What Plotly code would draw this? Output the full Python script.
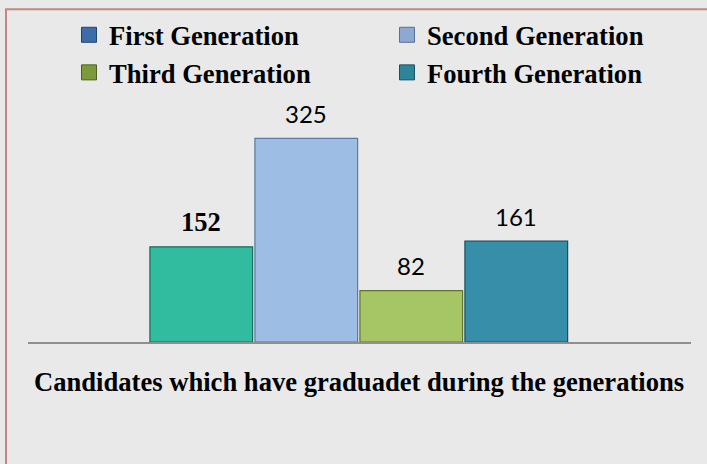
import plotly.graph_objects as go

# ---- data ----
categories = ["First Generation", "Second Generation", "Third Generation", "Fourth Generation"]
values = [152, 325, 82, 161]
axis_title = "Candidates which have graduadet during the generations"

# ---- styles ----
bar_colors = ["#31bb9f", "#9ebde4", "#a6c564", "#378ea8"]
bar_edges = ["#1a6b5a", "#5d7aa0", "#5f7430", "#1d4f5e"]
legend_colors = ["#3d6cab", "#8ea8d2", "#7d9a3a", "#2e8597"]
legend_edges = ["#23436f", "#5b6f93", "#4c6121", "#1a5360"]
label_fonts = [
    dict(family="Liberation Serif", size=26.5, color="#000000"),
    dict(family="Lato", size=24, color="#000000"),
    dict(family="Lato", size=24, color="#000000"),
    dict(family="Lato", size=24, color="#000000"),
]

W, H = 707, 464
ML, MR, MT, MB = 28, 16, 100, 121.5
pw = W - ML - MR
ph = H - MT - MB

fig = go.Figure()

fig.add_trace(go.Bar(
    x=categories, y=values,
    marker=dict(color=bar_colors, line=dict(color=bar_edges, width=1.2)),
    width=0.978,
    showlegend=False,
    hoverinfo="skip",
))

for name, col, edge in zip(categories, legend_colors, legend_edges):
    fig.add_trace(go.Scatter(
        x=[None], y=[None], mode="markers", name=name,
        marker=dict(symbol="square", size=15, color=col, line=dict(color=edge, width=1)),
    ))

annotations = []
for cat, val, fnt in zip(categories, values, label_fonts):
    bold = fnt["family"].startswith("Liberation Serif")
    annotations.append(dict(
        x=cat, y=val, xref="x", yref="y", text=f"<b>{val}</b>" if bold else str(val),
        showarrow=False, yanchor="middle", yshift=25, font=dict(fnt),
    ))

annotations.append(dict(
    x=(358.5 - ML) / pw, y=(342.5 - 383) / ph, xref="paper", yref="paper",
    text=f"<b>{axis_title}</b>", showarrow=False, xanchor="center", yanchor="middle",
    font=dict(family="Liberation Serif", size=26.6, color="#000000"),
))

def px_x(v):
    return (v - ML) / pw

def px_y(v):
    return (H - MB - v) / ph

shapes = [dict(
    type="rect", xref="paper", yref="paper",
    x0=px_x(6), x1=px_x(730), y0=px_y(9), y1=px_y(490),
    line=dict(color="#c48585", width=2), fillcolor="rgba(0,0,0,0)", layer="above",
)]

fig.update_layout(
    width=W, height=H,
    margin=dict(l=ML, r=MR, t=MT, b=MB, pad=0, autoexpand=False),
    paper_bgcolor="#e9e9e9",
    plot_bgcolor="rgba(0,0,0,0)",
    bargap=0.02,
    xaxis=dict(
        type="category", categoryorder="array", categoryarray=categories,
        range=[-1.650, 4.664], showticklabels=False, ticks="",
        showgrid=False, zeroline=False, showline=True, linecolor="#8f8f8f", linewidth=2,
        fixedrange=True,
    ),
    yaxis=dict(
        range=[0, ph / 0.6277], visible=False, showgrid=False, zeroline=False, fixedrange=True,
    ),
    legend=dict(
        orientation="h", xref="container", yref="container",
        x=69 / W, xanchor="left", y=1 - 11 / H, yanchor="top",
        entrywidth=273, entrywidthmode="pixels",
        font=dict(family="Liberation Serif", size=26.6, color="#000000", weight="bold"),
        bgcolor="rgba(0,0,0,0)", traceorder="normal", itemclick=False, itemdoubleclick=False,
    ),
    annotations=annotations,
    shapes=shapes,
    showlegend=True,
)

fig.write_html(
    "out.html",
    config={"displayModeBar": False, "staticPlot": True},
    post_script="document.body.style.margin='0px';document.body.style.overflow='hidden';",
)
